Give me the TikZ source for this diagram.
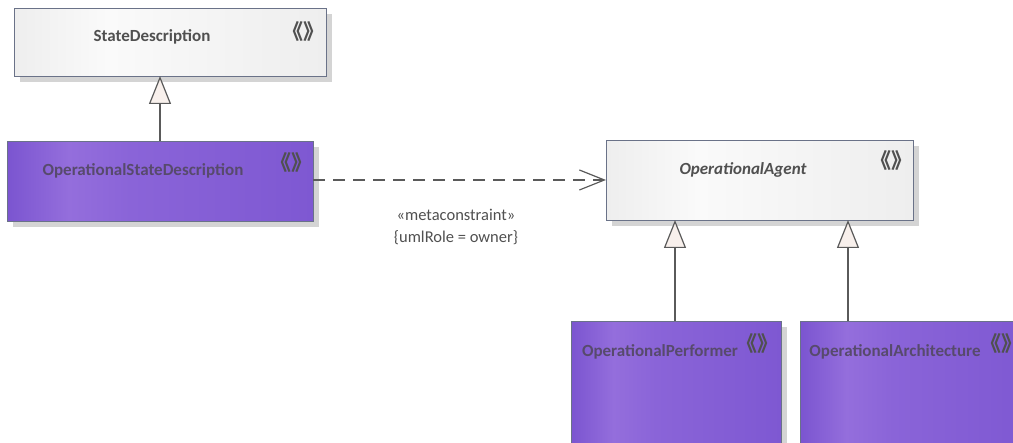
\documentclass[tikz,border=0pt]{standalone}
\usepackage{fontspec}
\setmainfont{Carlito}
\newfontfamily\cjkf{Noto Sans CJK SC}
\usetikzlibrary{arrows.meta,shadows}
\definecolor{bordc}{HTML}{6A7288}
\definecolor{txtc}{HTML}{505050}
\definecolor{ptxt}{HTML}{574A6C}
\definecolor{shc}{HTML}{D4D4D4}
\definecolor{linec}{HTML}{5A5A5A}
\definecolor{trifill}{HTML}{F8F0EC}
\definecolor{pA}{HTML}{7B55D0}
\definecolor{pB}{HTML}{946EDC}
\definecolor{pC}{HTML}{8A64D8}
\definecolor{pD}{HTML}{7E58D2}
\definecolor{gA}{HTML}{EEEEEE}
\definecolor{gB}{HTML}{FAFAFA}
\definecolor{gC}{HTML}{F3F3F3}
\pgfdeclarehorizontalshading{purpsh}{100bp}{color(0bp)=(pA);color(25bp)=(pA);color(35bp)=(pB);color(45bp)=(pC);color(75bp)=(pD);color(100bp)=(pD)}
\pgfdeclarehorizontalshading{graysh}{100bp}{color(0bp)=(gA);color(25bp)=(gA);color(40bp)=(gB);color(60bp)=(gC);color(75bp)=(gA);color(100bp)=(gA)}
\tikzset{
  graybox/.style={draw=bordc, line width=1.3pt, shading=graysh, rectangle, inner sep=0pt, anchor=north west,
    drop shadow={shadow xshift=5pt, shadow yshift=-5pt, fill=shc, opacity=1}},
  purpbox/.style={draw=bordc, line width=1.3pt, shading=purpsh, rectangle, inner sep=0pt, anchor=north west,
    drop shadow={shadow xshift=5pt, shadow yshift=-5pt, fill=shc, opacity=1}},
  title/.style={font=\bfseries\fontsize{17}{19}\selectfont, text=txtc},
  ptitle/.style={font=\bfseries\fontsize{17}{19}\selectfont, text=ptxt},
  stereo/.style={font=\cjkf\bfseries\fontsize{21}{23}\selectfont, text=txtc, inner sep=0pt},
  gen/.style={draw=linec, line width=1.2pt, -{Triangle[open, length=28pt, width=22pt, fill=trifill]}},
  dep/.style={draw=linec, line width=1.2pt, dash pattern=on 12pt off 8pt, -{Straight Barb[length=25pt, width=20pt, line width=1.2pt]}},
  lbl/.style={font=\fontsize{16.5}{19}\selectfont, text=txtc}
}
\begin{document}
\begin{tikzpicture}[x=1pt,y=-1pt]
\useasboundingbox (0,0) rectangle (1013,443);
\node[graybox, minimum width=312pt, minimum height=68pt] (sd) at (14,8) {};
\node[title] (sdt) at (152,37) {StateDescription};
\node[stereo] (sds) at (303,32) {《》};

\node[purpbox, minimum width=306pt, minimum height=80pt] (osd) at (7,141) {};
\node[ptitle] (osdt) at (143,171) {OperationalStateDescription};
\node[stereo] (osds) at (291,163) {《》};

\node[graybox, minimum width=307pt, minimum height=80pt] (oa) at (606,140) {};
\node[title, font=\bfseries\itshape\fontsize{17}{19}\selectfont] (oat) at (743,170) {OperationalAgent};
\node[stereo] (oas) at (891,161) {《》};

\node[purpbox, minimum width=210pt, minimum height=140pt] (op) at (571,321) {};
\node[ptitle] (opt) at (660,352) {OperationalPerformer};
\node[stereo] (ops) at (757,344) {《》};

\node[purpbox, minimum width=230pt, minimum height=140pt] (oar) at (800,321) {};
\node[ptitle] (oart) at (895,352) {OperationalArchitecture};
\node[stereo] (oars) at (1001,344) {《》};

\coordinate (osdtop) at (160,141);
\coordinate (sdbot) at (160,76);
\draw[gen] (osdtop) -- (sdbot);

\coordinate (optop) at (675,321);
\coordinate (oab1) at (675,220);
\draw[gen] (optop) -- (oab1);
\coordinate (oartop) at (848,321);
\coordinate (oab2) at (848,220);
\draw[gen] (oartop) -- (oab2);

\coordinate (osdr) at (313,180);
\coordinate (oal) at (606,180);
\draw[dep] (osdr) -- (oal);
\node[lbl] (l1) at (456,215) {«metaconstraint»};
\node[lbl] (l2) at (456,238) {\{umlRole = owner\}};
\end{tikzpicture}
\end{document}
